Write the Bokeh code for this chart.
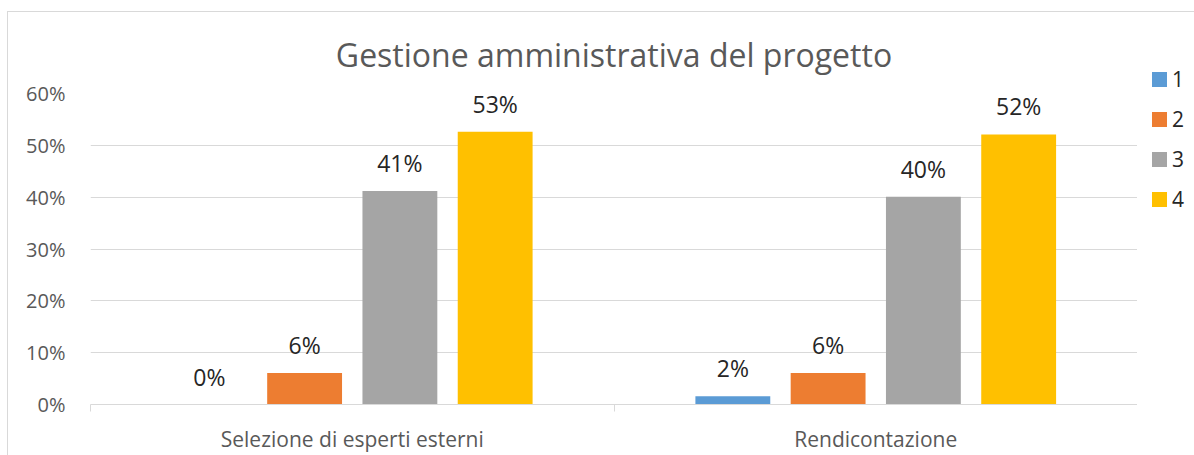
from bokeh.plotting import figure
from bokeh.layouts import row
from bokeh.models import (ColumnDataSource, Range1d, LinearAxis, FixedTicker, NumeralTickFormatter,
                          LabelSet, Div)
from bokeh.transform import dodge
from bokeh.core.properties import value
from bokeh.embed import file_html
from bokeh.resources import INLINE

# ---- data ----
categories = ["Selezione di esperti esterni", "Rendicontazione"]
series_names = ["1", "2", "3", "4"]
series1 = [0.0, 0.016]
series2 = [0.061, 0.061]
series3 = [0.412, 0.401]
series4 = [0.526, 0.521]
y_ticks = [0.0, 0.1, 0.2, 0.3, 0.4, 0.5, 0.6]
title_text = "Gestione amministrativa del progetto"

colors = ["#5B9BD5", "#ED7D31", "#A5A5A5", "#FFC000"]
FONT = "Open Sans"

n_cat = len(categories)
centers = [i + 0.5 for i in range(n_cat)]
all_series = [series1, series2, series3, series4]
data = dict(x=centers, cat=categories)
for name, vals in zip(series_names, all_series):
    data["v" + name] = vals
    data["t" + name] = [f"{v * 100:.0f}%" for v in vals]
source = ColumnDataSource(data)

p = figure(x_range=Range1d(0, n_cat), y_range=Range1d(0, 0.6),
           width=1129, height=443, output_backend="svg", toolbar_location=None,
           x_axis_location=None, min_border_left=82, min_border_right=0,
           min_border_top=81, min_border_bottom=45)
p.outline_line_color = None

p.title.text = title_text
p.title.align = "center"
p.title.text_font = FONT
p.title.text_font_size = "32px"
p.title.text_font_style = "normal"
p.title.text_color = "#595959"
p.title.standoff = 36

# y axis
p.yaxis.ticker = FixedTicker(ticks=y_ticks)
p.yaxis.formatter = NumeralTickFormatter(format="0%")
p.yaxis.axis_line_color = None
p.yaxis.major_tick_line_color = None
p.yaxis.minor_tick_line_color = None
p.yaxis.major_label_standoff = 19
p.yaxis.major_label_text_font = FONT
p.yaxis.major_label_text_font_size = "20px"
p.yaxis.major_label_text_color = "#595959"

p.ygrid.ticker = FixedTicker(ticks=y_ticks)
p.ygrid.grid_line_color = "#D9D9D9"
p.xgrid.grid_line_color = None

# category boundary ticks
edge_ticks = list(range(n_cat + 1))
edge_axis = LinearAxis(ticker=FixedTicker(ticks=edge_ticks),
                       major_label_overrides={t: "" for t in edge_ticks},
                       major_tick_out=7, major_tick_in=0, axis_line_color="#D9D9D9",
                       major_tick_line_color="#D9D9D9", minor_tick_line_color=None,
                       major_label_standoff=0)
p.add_layout(edge_axis, "below")
# category labels
cat_axis = LinearAxis(ticker=FixedTicker(ticks=centers),
                      major_label_overrides={c: lab for c, lab in zip(centers, categories)},
                      axis_line_color=None, major_tick_line_color=None, minor_tick_line_color=None,
                      major_label_text_font=FONT, major_label_text_font_size="21px",
                      major_label_text_color="#595959", major_label_standoff=7)
p.add_layout(cat_axis, "below")

# bars
offsets = [-0.273, -0.091, 0.091, 0.273]
bar_w = 0.143
for name, off, col in zip(series_names, offsets, colors):
    p.vbar(x=dodge("x", off), top="v" + name, width=bar_w,
           source=source, fill_color=col, line_color=None)
    labels = LabelSet(x=dodge("x", off), y="v" + name, text="t" + name,
                      source=source, y_offset=19, text_align="center", text_baseline="alphabetic",
                      text_font=value(FONT), text_font_size="23px", text_color="#262626")
    p.add_layout(labels)

# legend column on the right
items_html = ""
for i, (n, col) in enumerate(zip(series_names, colors)):
    top = 60 + 40 * i
    items_html += (
        f'<div style="position:absolute;left:15px;top:{top}px;height:15px;'
        f'display:flex;align-items:center;white-space:nowrap;">'
        f'<span style="display:inline-block;width:15px;height:15px;background:{col};"></span>'
        f'<span style="margin-left:5px;font-family:\'Open Sans\';font-size:21px;'
        f'color:#262626;line-height:15px;">{n}</span></div>'
    )
legend_div = Div(text=f'<div style="position:relative;width:57px;height:443px;">{items_html}</div>',
                 width=57, height=443, margin=0)

layout = row(p, legend_div, spacing=0)
layout.styles = {"border-top": "1px solid #D9D9D9", "border-left": "1px solid #D9D9D9",
                 "margin-top": "11px", "margin-left": "7px"}

open("out.html", "w").write(file_html(layout, INLINE))
